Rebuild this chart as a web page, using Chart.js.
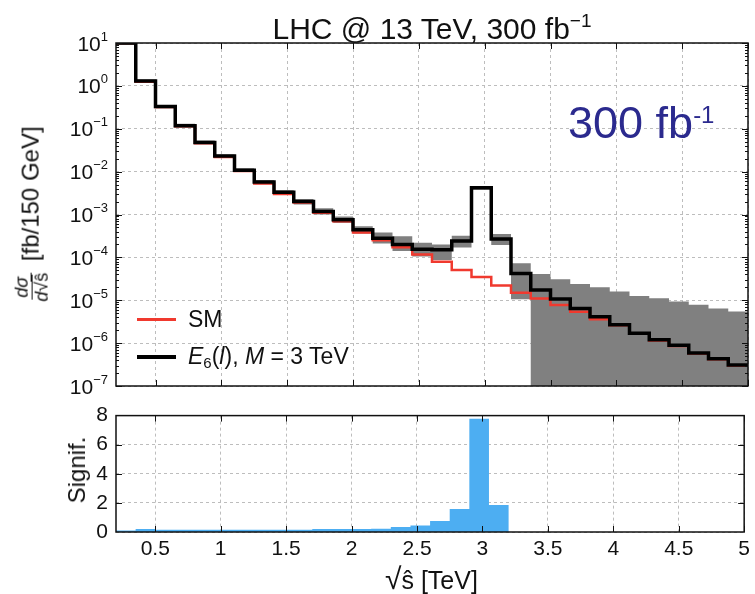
<!DOCTYPE html>
<html>
<head>
<meta charset="utf-8">
<script src="https://cdn.jsdelivr.net/npm/chart.js@4.4.1/dist/chart.umd.min.js"></script>
<style>
  body { margin: 0; width: 755px; height: 594px; background: #fff; position: relative; overflow: hidden;
         font-family: "Liberation Sans", Arial, sans-serif; color: #111; }
  .box { position: absolute; }
  .lbl { position: absolute; white-space: nowrap; line-height: 1; }
  .frac { display: inline-flex; flex-direction: column; align-items: center; vertical-align: middle;
          font-size: 18px; line-height: 1.05; margin-right: 5px; }
  .frac .num { border-bottom: 1.3px solid #111; padding: 0 2px; }
  .legline { position: absolute; left: 137px; width: 39px; }
</style>
</head>
<body>
<div class="box" style="left:0;top:0;width:755px;height:400px"><canvas id="xsec-chart"></canvas></div>
<div class="box" style="left:0;top:395px;width:755px;height:199px"><canvas id="sig-chart"></canvas></div>

<div class="lbl" style="left:432px;top:11px;font-size:30px;transform:translateX(-50%)">LHC @ 13 TeV, 300 fb<span style="font-size:19px;vertical-align:12px">&minus;1</span></div>
<div class="lbl" style="left:568px;top:100px;font-size:45px;color:#2b2a8e">300 fb<span style="font-size:24px;vertical-align:15px">-1</span></div>

<div class="legline" style="top:318px;height:3px;background:#f0392e"></div>
<div class="lbl" style="left:188px;top:308px;font-size:23px">SM</div>
<div class="legline" style="top:355px;height:4px;background:#000"></div>
<div class="lbl" style="left:188px;top:345px;font-size:23px"><i>E</i><span style="font-size:15px;vertical-align:-4px">6</span>(<i>l</i>), <i>M</i> = 3 TeV</div>

<div class="lbl" style="left:32px;top:214px;font-size:24px;transform:translate(-50%,-50%) rotate(-90deg)"><span class="frac"><span class="num"><i>d&sigma;</i></span><span><i>d</i>&radic;<span style="border-top:1px solid #111">&#349;</span></span></span> [fb/150 GeV]</div>
<div class="lbl" style="left:77px;top:470px;font-size:24px;transform:translate(-50%,-50%) rotate(-90deg)">Signif.</div>
<div class="lbl" style="left:385px;top:564px;font-size:25px"><span style="font-size:30px">&radic;</span>&#349; [TeV]</div>

<script>
// bin edges of the sqrt(s) histogram, TeV (150 GeV bins)
const binEdges = [0.2, 0.35, 0.5, 0.65, 0.8, 0.95, 1.1, 1.25, 1.4, 1.55, 1.7, 1.85, 2.0, 2.15, 2.3, 2.45,
  2.6, 2.75, 2.9, 3.05, 3.2, 3.35, 3.5, 3.65, 3.8, 3.95, 4.1, 4.25, 4.4, 4.55, 4.7, 4.85, 5.0];

// dsigma/dsqrt(s) [fb/150 GeV]
const e6Values = [10, 1.3, 0.33, 0.118, 0.048, 0.023, 0.0108, 0.0057, 0.0033, 0.002, 0.00117, 7.5e-4,
  4.4e-4, 2.8e-4, 2.0e-4, 1.55e-4, 1.5e-4, 2.4e-4, 4.2e-3, 2.7e-4, 4.2e-5, 1.74e-5, 1.07e-5, 6.4e-6,
  4.1e-6, 2.7e-6, 1.7e-6, 1.2e-6, 8.9e-7, 5.9e-7, 4.3e-7, 3.1e-7];
const smValues = [10, 1.25, 0.32, 0.115, 0.046, 0.022, 0.0104, 0.0053, 0.003, 0.0019, 0.0011, 7.0e-4,
  3.8e-4, 2.5e-4, 1.73e-4, 1.17e-4, 7.9e-5, 5.1e-5, 3.5e-5, 2.2e-5, 1.5e-5, 1.1e-5, 7.8e-6, 5.4e-6,
  3.6e-6, 2.6e-6, 1.65e-6, 1.15e-6, 8.6e-7, 5.7e-7, 4.2e-7, 3.0e-7];
// uncertainty band (grey)
const bandHigh = [11, 1.4, 0.36, 0.13, 0.053, 0.025, 0.012, 0.0063, 0.0037, 0.0023, 0.0014, 9.0e-4,
  5.3e-4, 3.8e-4, 3.1e-4, 2.2e-4, 2.0e-4, 3.2e-4, 4.6e-3, 3.5e-4, 7.3e-5, 4.1e-5, 3.1e-5, 2.4e-5,
  2.0e-5, 1.6e-5, 1.26e-5, 1.12e-5, 9.3e-6, 7.9e-6, 6.4e-6, 5.5e-6];
const bandLow = [9, 1.2, 0.3, 0.108, 0.044, 0.021, 0.0098, 0.0051, 0.0029, 0.0017, 0.001, 6.3e-4,
  3.6e-4, 2.1e-4, 1.4e-4, 1.05e-4, 8.7e-5, 1.7e-4, 3.8e-3, 1.95e-4, 1.06e-5, 1e-9, 1e-9, 1e-9,
  1e-9, 1e-9, 1e-9, 1e-9, 1e-9, 1e-9, 1e-9, 1e-9];

// significance per bin
const signif = [0.11, 0.2, 0.15, 0.15, 0.15, 0.15, 0.15, 0.15, 0.15, 0.15, 0.2, 0.2, 0.2, 0.22, 0.35,
  0.45, 0.76, 1.58, 7.78, 1.86, 0, 0, 0, 0, 0, 0, 0, 0, 0, 0, 0, 0];

const xTicks = [0.5, 1, 1.5, 2, 2.5, 3, 3.5, 4, 4.5, 5];
const decadeExps = [1, 0, -1, -2, -3, -4, -5, -6, -7];
const sigTicks = [0, 2, 4, 6, 8];

const LEFT = 116, RIGHT_PAD = 7;
const FONT = '"Liberation Sans", Arial, sans-serif';

// histogram values -> stepped points at bin edges
function steps(vals) {
  const pts = vals.map((v, i) => ({ x: binEdges[i], y: v }));
  pts.push({ x: binEdges[binEdges.length - 1], y: vals[vals.length - 1] });
  return pts;
}

// frame, inward tick marks and power-of-ten labels
const frameTicks = {
  id: 'frameTicks',
  afterDraw(chart, args, opts) {
    const { ctx, chartArea: a, scales } = chart;
    const seg = (x1, y1, x2, y2) => { ctx.beginPath(); ctx.moveTo(x1, y1); ctx.lineTo(x2, y2); ctx.stroke(); };
    ctx.save();
    ctx.strokeStyle = '#111';
    ctx.lineWidth = 1;
    xTicks.forEach(v => {
      const px = Math.round(scales.x.getPixelForValue(v)) + 0.5;
      seg(px, a.bottom, px, a.bottom - 6);
      seg(px, a.top, px, a.top + 6);
    });
    opts.yMajor.forEach(v => {
      const py = Math.round(scales.y.getPixelForValue(v)) + 0.5;
      seg(a.left, py, a.left + 6, py);
      seg(a.right, py, a.right - 6, py);
    });
    (opts.yMinor || []).forEach(v => {
      const py = Math.round(scales.y.getPixelForValue(v)) + 0.5;
      seg(a.left, py, a.left + 3, py);
      seg(a.right, py, a.right - 3, py);
    });
    ctx.lineWidth = 1.5;
    ctx.strokeRect(a.left, a.top, a.right - a.left, a.bottom - a.top);

    if (opts.logLabels) {
      ctx.fillStyle = '#111';
      ctx.textBaseline = 'alphabetic';
      decadeExps.forEach(e => {
        const py = scales.y.getPixelForValue(Math.pow(10, e));
        const exp = e < 0 ? '\u2212' + (-e) : String(e);
        ctx.font = '13px ' + FONT;
        const we = ctx.measureText(exp).width;
        ctx.font = '21px ' + FONT;
        const wb = ctx.measureText('10').width;
        const right = 108;
        ctx.fillText('10', right - we - wb, py + 7.5);
        ctx.font = '13px ' + FONT;
        ctx.fillText(exp, right - we, py - 2.5);
      });
    }
    ctx.restore();
  }
};

const gridOpts = { color: '#bdbdbd', lineWidth: 1, drawTicks: false };
const borderOpts = { display: false, dash: [3, 3] };

const yMinor = [];
for (let e = -7; e <= 0; e++) for (let m = 2; m <= 9; m++) yMinor.push(m * Math.pow(10, e));

new Chart(document.getElementById('xsec-chart'), {
  type: 'line',
  data: {
    datasets: [
      { label: 'E6(l), M = 3 TeV', data: steps(e6Values), stepped: true, borderColor: '#000',
        borderWidth: 3.5, pointRadius: 0, fill: false },
      { label: 'SM', data: steps(smValues), stepped: true, borderColor: '#f0392e',
        borderWidth: 2.5, pointRadius: 0, fill: false },
      { label: 'band high', data: steps(bandHigh), stepped: true, borderWidth: 0,
        borderColor: 'rgba(0,0,0,0)', pointRadius: 0, fill: false },
      { label: 'band low', data: steps(bandLow), stepped: true, borderWidth: 0,
        borderColor: 'rgba(0,0,0,0)', pointRadius: 0, fill: '-1', backgroundColor: '#808080' }
    ]
  },
  options: {
    responsive: true,
    maintainAspectRatio: false,
    animation: false,
    events: [],
    layout: { padding: { top: 43, right: RIGHT_PAD, left: 0, bottom: 0 } },
    plugins: {
      legend: { display: false },
      tooltip: { enabled: false },
      frameTicks: { yMajor: decadeExps.map(e => Math.pow(10, e)), yMinor: yMinor, logLabels: true }
    },
    scales: {
      x: {
        type: 'linear', min: 0.2, max: 5,
        afterBuildTicks: s => { s.ticks = xTicks.map(v => ({ value: v })); },
        afterFit: s => { s.height = 14; },
        ticks: { display: false },
        grid: gridOpts, border: borderOpts
      },
      y: {
        type: 'logarithmic', min: 1e-7, max: 10,
        afterBuildTicks: s => { s.ticks = decadeExps.map(e => ({ value: Math.pow(10, e) })); },
        afterFit: s => { s.width = LEFT; },
        ticks: { display: false },
        grid: gridOpts, border: borderOpts
      }
    }
  },
  plugins: [frameTicks]
});

new Chart(document.getElementById('sig-chart'), {
  type: 'line',
  data: {
    datasets: [
      { label: 'Signif.', data: steps(signif), stepped: true, borderWidth: 0,
        borderColor: 'rgba(0,0,0,0)', pointRadius: 0, fill: 'origin', backgroundColor: '#4daef2' }
    ]
  },
  options: {
    responsive: true,
    maintainAspectRatio: false,
    animation: false,
    events: [],
    layout: { padding: { top: 14, right: RIGHT_PAD, left: 0, bottom: 0 } },
    plugins: {
      legend: { display: false },
      tooltip: { enabled: false },
      frameTicks: { yMajor: [2, 4, 6], logLabels: false }
    },
    scales: {
      x: {
        type: 'linear', min: 0.2, max: 5,
        afterBuildTicks: s => { s.ticks = xTicks.map(v => ({ value: v })); },
        afterFit: s => { s.height = 62; },
        ticks: { color: '#111', font: { family: FONT, size: 21 }, padding: 5, maxRotation: 0,
                 callback: v => String(v) },
        grid: gridOpts, border: borderOpts
      },
      y: {
        type: 'linear', min: 0, max: 8,
        afterBuildTicks: s => { s.ticks = sigTicks.map(v => ({ value: v })); },
        afterFit: s => { s.width = LEFT; },
        ticks: { color: '#111', font: { family: FONT, size: 21 }, padding: 8, callback: v => String(v) },
        grid: gridOpts, border: borderOpts
      }
    }
  },
  plugins: [frameTicks]
});
</script>
</body>
</html>
